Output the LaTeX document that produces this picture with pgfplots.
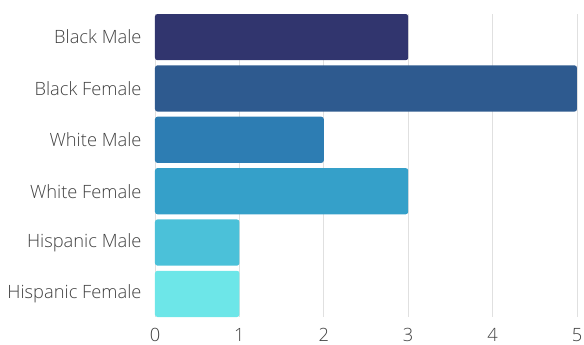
\documentclass[border=0pt]{standalone}
\usepackage{pgfplots}
\pgfplotsset{compat=1.18}
\usepackage{fontspec}
\setmainfont{Open Sans}[UprightFont=* Light]
\definecolor{c1}{HTML}{31356E}
\definecolor{c2}{HTML}{2E5A8F}
\definecolor{c3}{HTML}{2D7DB3}
\definecolor{c4}{HTML}{35A0C9}
\definecolor{c5}{HTML}{4BC1D9}
\definecolor{c6}{HTML}{6DE6E8}
\definecolor{lbl}{HTML}{404040}
\begin{document}
\begin{tikzpicture}
\path[use as bounding box] (-155pt,-28pt) rectangle (429pt,317pt);
\begin{axis}[
  scale only axis, width=422pt, height=303pt,
  xmin=0, xmax=5, ymin=-0.45, ymax=5.45, y dir=reverse,
  axis line style={draw=none},
  xtick={0,1,2,3,4,5}, ytick={0,1,2,3,4,5},
  yticklabels={Black Male,Black Female,White Male,White Female,Hispanic Male,Hispanic Female},
  major tick length=0pt,
  xmajorgrids, grid style={draw=black!12, line width=0.8pt},
  tick label style={font=\fontsize{18.3}{21}\selectfont, text=lbl},
  /pgf/number format/assume math mode=true,
  xticklabel style={yshift=-7.5pt},
  yticklabel style={xshift=-10pt},
  xbar, bar width=0.9, bar shift=0pt,
  clip=false,
]
\addplot[fill=c1, draw=none, rounded corners=2.5pt] coordinates {(3,0)};
\addplot[fill=c2, draw=none, rounded corners=2.5pt] coordinates {(5,1)};
\addplot[fill=c3, draw=none, rounded corners=2.5pt] coordinates {(2,2)};
\addplot[fill=c4, draw=none, rounded corners=2.5pt] coordinates {(3,3)};
\addplot[fill=c5, draw=none, rounded corners=2.5pt] coordinates {(1,4)};
\addplot[fill=c6, draw=none, rounded corners=2.5pt] coordinates {(1,5)};
\end{axis}
\end{tikzpicture}
\end{document}
